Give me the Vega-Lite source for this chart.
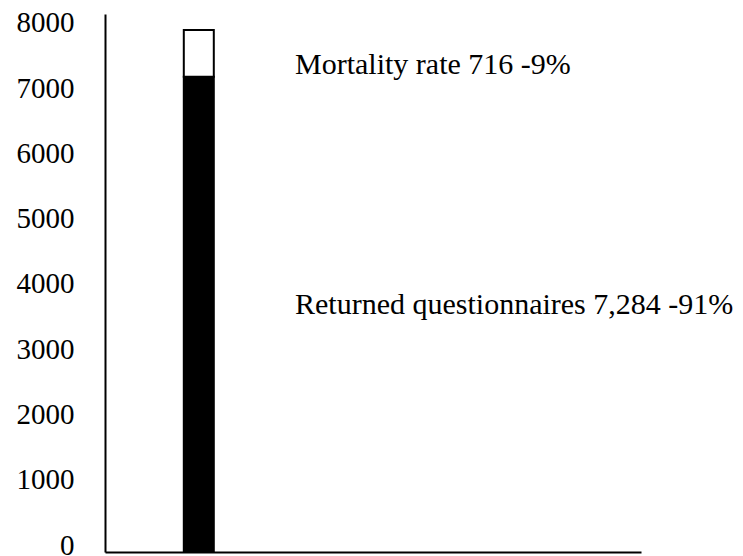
{
  "$schema": "https://vega.github.io/schema/vega-lite/v6.json",
  "width": 536,
  "height": 538,
  "autosize": {"type": "none"},
  "padding": {"left": 105, "top": 14, "right": 102, "bottom": 4},
  "background": "white",
  "config": {"view": {"stroke": null}},
  "data": {
    "values": [
      {"group": "Returned questionnaires", "count": 7284, "pct": 91, "order": 1, "label": "Returned questionnaires 7,284 -91%"},
      {"group": "Mortality rate", "count": 716, "pct": 9, "order": 2, "label": "Mortality rate 716 -9%"}
    ]
  },
  "layer": [
    {
      "mark": {"type": "bar", "size": 30, "stroke": "black", "strokeWidth": 2},
      "encoding": {
        "x": {"datum": 0.175, "type": "quantitative", "scale": {"domain": [0, 1], "padding": 0, "nice": false, "zero": false},
          "axis": {"labels": false, "ticks": false, "grid": false, "title": null, "domainColor": "black", "domainWidth": 2}},
        "y": {"field": "count", "type": "quantitative", "stack": "zero",
          "scale": {"domain": [0, 8245], "nice": false},
          "axis": {"values": [0, 1000, 2000, 3000, 4000, 5000, 6000, 7000, 8000], "ticks": false, "grid": false, "title": null,
            "domainColor": "black", "domainWidth": 2, "labelFont": "Liberation Serif", "labelFontSize": 29,
            "labelColor": "black", "labelPadding": 31, "labelOffset": -7, "format": "d"}},
        "order": {"field": "order"},
        "color": {"field": "group", "type": "nominal", "legend": null,
          "scale": {"domain": ["Returned questionnaires", "Mortality rate"], "range": ["black", "white"]}}
      }
    },
    {
      "transform": [{"filter": "datum.group === 'Mortality rate'"}],
      "mark": {"type": "text", "align": "left", "baseline": "middle", "font": "Liberation Serif", "fontSize": 30, "color": "black"},
      "encoding": {
        "x": {"datum": 0.3545, "type": "quantitative"},
        "y": {"datum": 7464, "type": "quantitative"},
        "text": {"field": "label"}
      }
    },
    {
      "transform": [{"filter": "datum.group === 'Returned questionnaires'"}],
      "mark": {"type": "text", "align": "left", "baseline": "middle", "font": "Liberation Serif", "fontSize": 30, "color": "black"},
      "encoding": {
        "x": {"datum": 0.3545, "type": "quantitative"},
        "y": {"datum": 3785, "type": "quantitative"},
        "text": {"field": "label"}
      }
    }
  ]
}
